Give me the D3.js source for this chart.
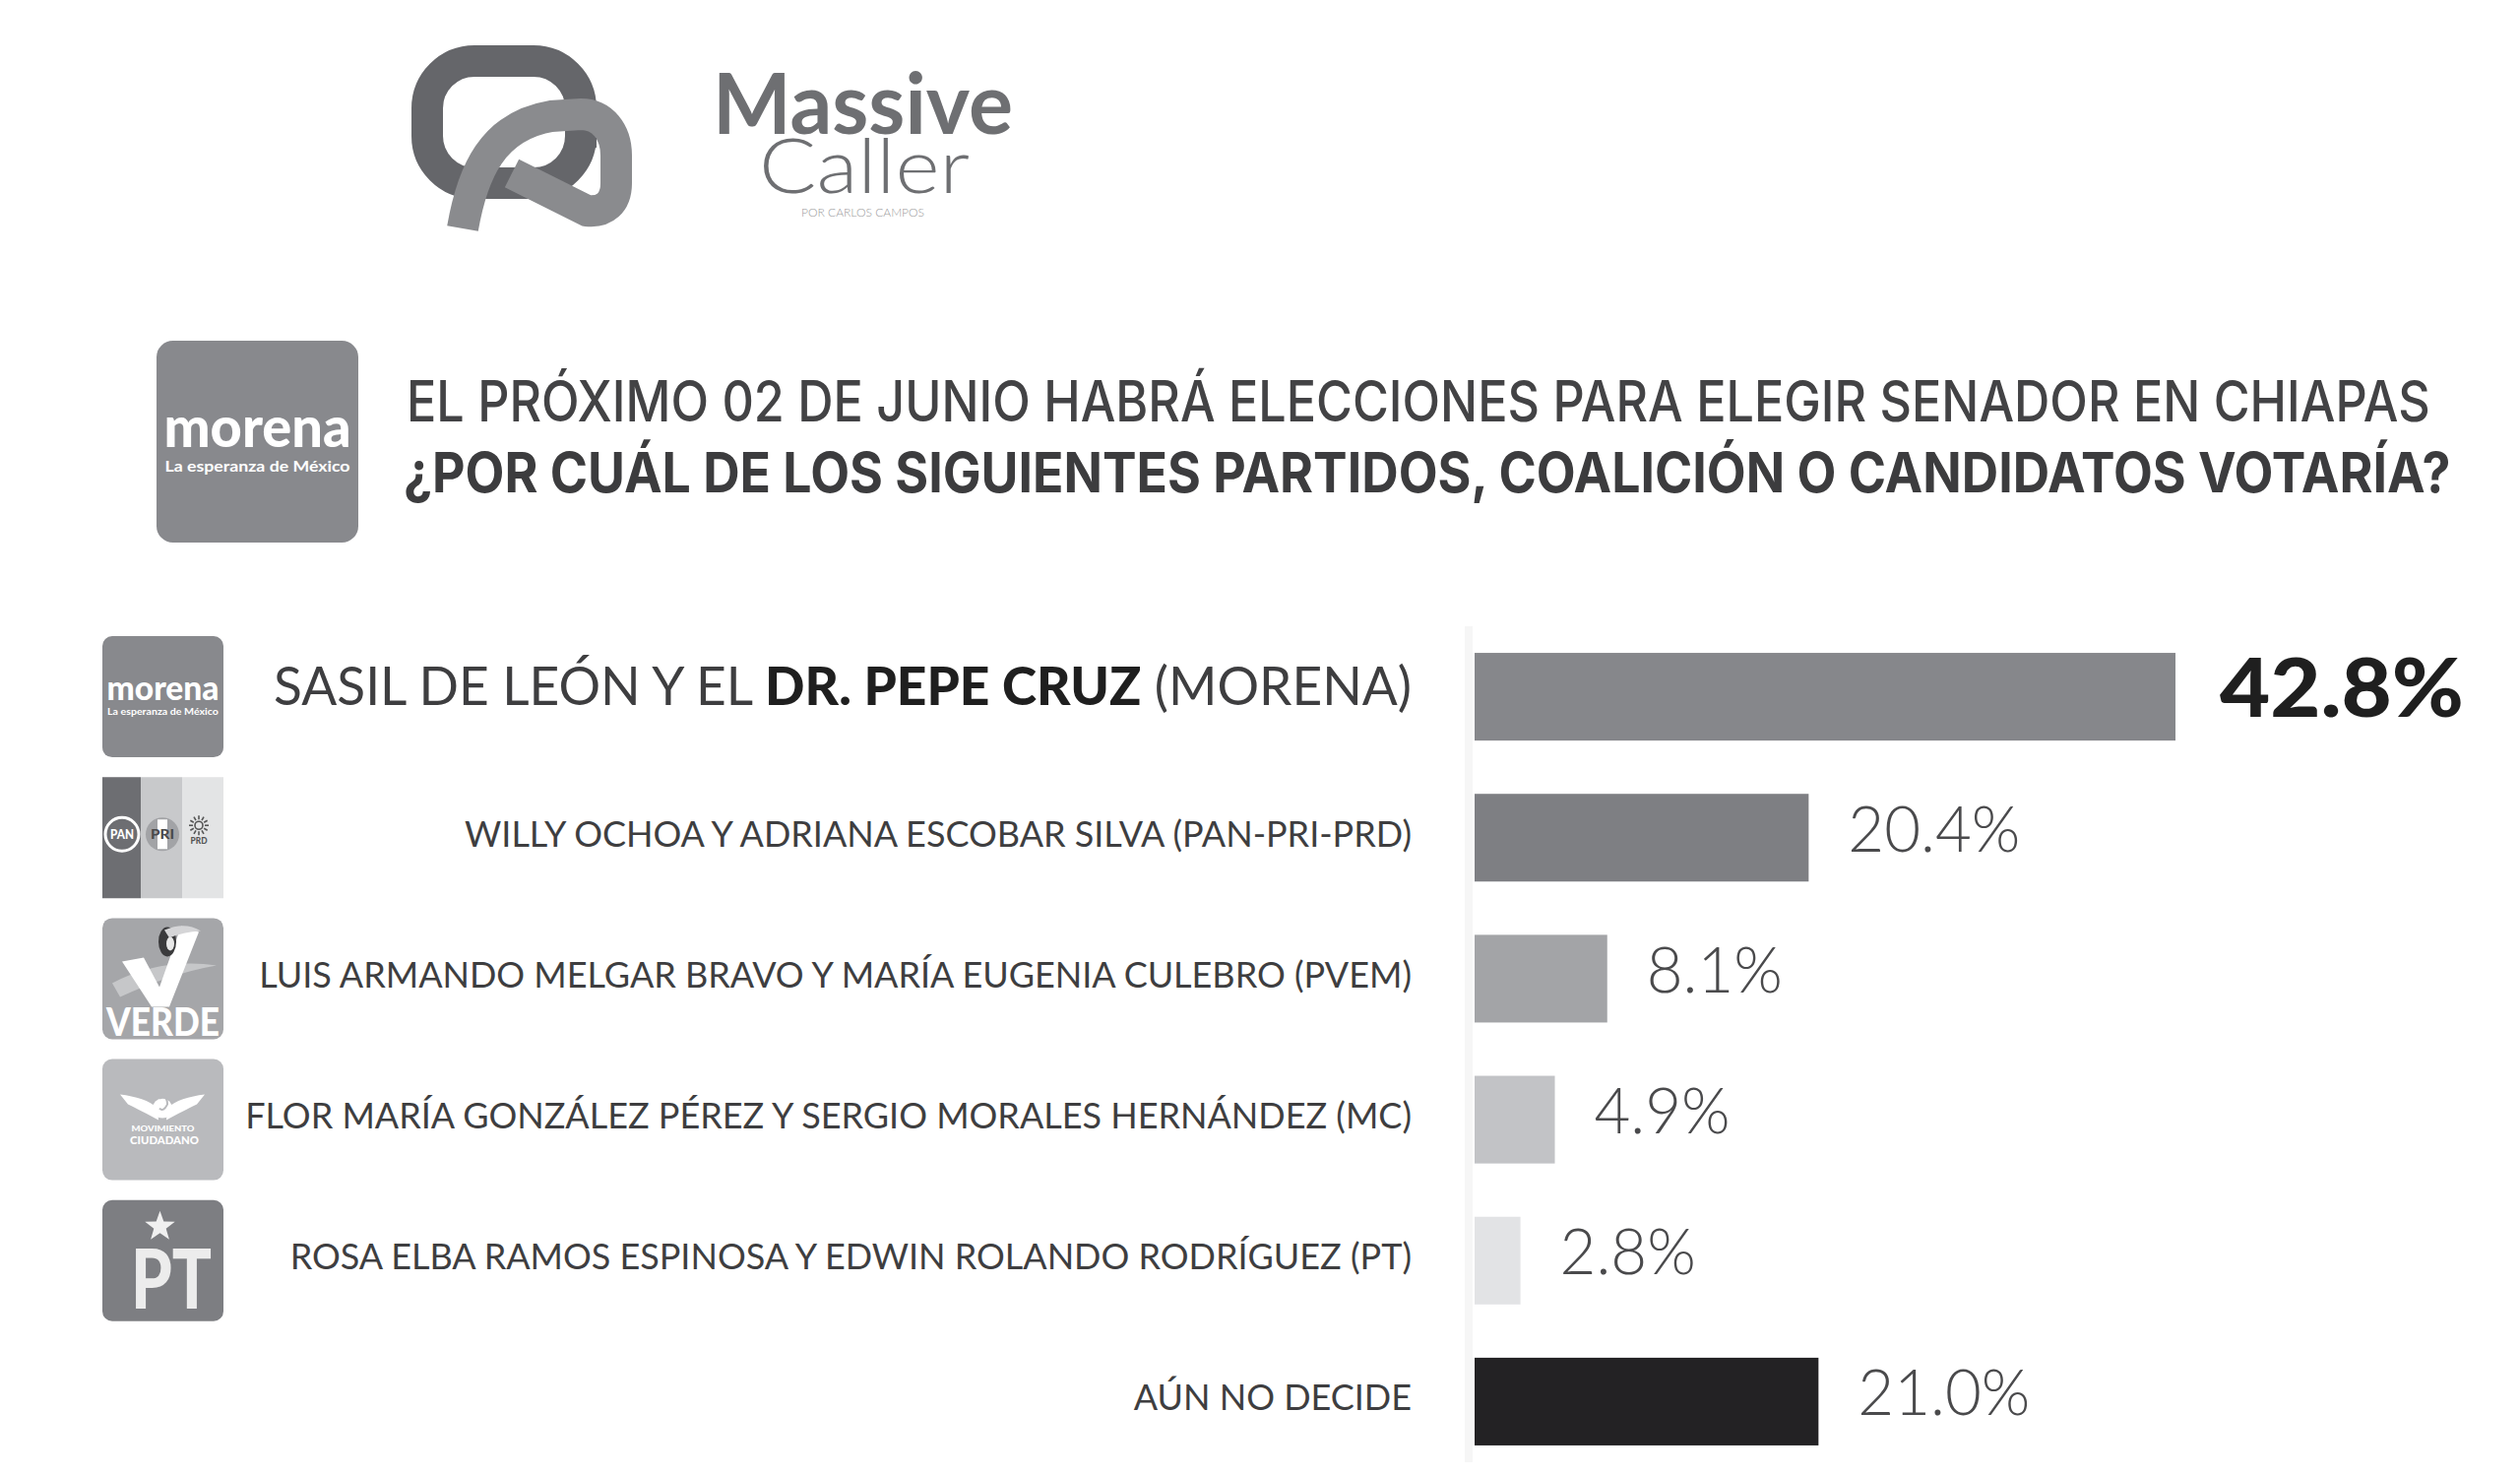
<!DOCTYPE html>
<html>
<head>
<meta charset="utf-8">
<script src="https://cdn.jsdelivr.net/npm/d3@7"></script>
<style>
  html, body { margin: 0; padding: 0; background: #fff; }
  svg { display: block; }
</style>
</head>
<body>
<div class="chart"></div>
<script>
// Data
const titleLines = [
    "EL PRÓXIMO 02 DE JUNIO HABRÁ ELECCIONES PARA ELEGIR SENADOR EN CHIAPAS",
    "¿POR CUÁL DE LOS SIGUIENTES PARTIDOS, COALICIÓN O CANDIDATOS VOTARÍA?"
];
const categories = [
    "SASIL DE LEÓN Y EL DR. PEPE CRUZ (MORENA)",
    "WILLY OCHOA Y ADRIANA ESCOBAR SILVA (PAN-PRI-PRD)",
    "LUIS ARMANDO MELGAR BRAVO Y MARÍA EUGENIA CULEBRO (PVEM)",
    "FLOR MARÍA GONZÁLEZ PÉREZ Y SERGIO MORALES HERNÁNDEZ (MC)",
    "ROSA ELBA RAMOS ESPINOSA Y EDWIN ROLANDO RODRÍGUEZ (PT)",
    "AÚN NO DECIDE"
];
const boldParts = ["DR. PEPE CRUZ", "", "", "", "", ""];
const values = [42.8, 20.4, 8.1, 4.9, 2.8, 21.0];
const valueLabels = ["42.8%", "20.4%", "8.1%", "4.9%", "2.8%", "21.0%"];
const partyLogos = ["morena", "panpriprd", "verde", "mc", "pt", ""];

// Styles
const barColors = ["#86878b", "#7e7f83", "#a3a4a7", "#c2c3c6", "#e2e3e5", "#232224"];
const width = 2560;
const height = 1499;

const svg = d3.select(".chart").append("svg")
    .attr("width", width)
    .attr("height", height);

// text helper: draws text in a group and squeezes it to a target width
function fitText(parent, x, y, str, attrs, targetW) {
    const g = parent.append("g");
    const t = g.append("text").text(str);
    Object.keys(attrs).forEach(k => t.attr(k, attrs[k]));
    let k = 1;
    if (targetW) k = targetW / t.node().getComputedTextLength();
    g.attr("transform", `translate(${x},${y}) scale(${k},1)`);
    return g;
}

// ---- Massive Caller logo ----
const logo = svg.append("g");
logo.append("rect")
    .attr("x", 434).attr("y", 62).attr("width", 156).attr("height", 124).attr("rx", 48)
    .attr("fill", "none").attr("stroke", "#65666a").attr("stroke-width", 32);
logo.append("path")
    .attr("d", "M470,232 C480,175 500,128 560,118 L590,116 C612,116 626,134 626,158 L626,186 C626,206 614,216 596,214 L520,176")
    .attr("fill", "none").attr("stroke", "#8a8b8e").attr("stroke-width", 32);
logo.append("path")
    .attr("d", "M590,140 L590,150")
    .attr("fill", "none").attr("stroke", "#65666a").attr("stroke-width", 32);
const brand = logo.append("text").attr("font-family", "Lato").attr("fill", "#6e6f72");
brand.append("tspan").attr("x", 724).attr("y", 136).text("Massive")
    .attr("font-weight", 700).attr("font-size", 86)
    .attr("textLength", 305).attr("lengthAdjust", "spacingAndGlyphs");
brand.append("tspan").attr("x", 771).attr("y", 196).text("Caller")
    .attr("font-weight", 300).attr("font-size", 76)
    .attr("textLength", 214).attr("lengthAdjust", "spacingAndGlyphs");
brand.append("tspan").attr("x", 814).attr("y", 220).text("POR CARLOS CAMPOS")
    .attr("font-weight", 300).attr("font-size", 11).attr("fill", "#9a9a9c")
    .attr("textLength", 125).attr("lengthAdjust", "spacingAndGlyphs");

// ---- party logos ----
function star(cx, cy, ro, ri) {
    const pts = [];
    for (let i = 0; i < 10; i++) {
        const r = i % 2 === 0 ? ro : ri;
        const a = -Math.PI / 2 + i * Math.PI / 5;
        pts.push([cx + r * Math.cos(a), cy + r * Math.sin(a)]);
    }
    return "M" + pts.map(p => p.join(",")).join("L") + "Z";
}

function drawMorena(g) {
    g.append("rect").attr("width", 123).attr("height", 123).attr("rx", 10).attr("fill", "#88898d");
    fitText(g, 61.5, 65, "morena",
        { "font-family": "Lato", "font-weight": 900, "font-size": 34, fill: "#fff", "text-anchor": "middle" }, 114);
    fitText(g, 61.5, 80, "La esperanza de México",
        { "font-family": "Lato", "font-weight": 700, "font-size": 9, fill: "#fff", "text-anchor": "middle" }, 113);
}

function drawPanPriPrd(g) {
    g.append("rect").attr("x", 0).attr("width", 39).attr("height", 123).attr("fill", "#6d6e72");
    g.append("rect").attr("x", 39).attr("width", 42).attr("height", 123).attr("fill", "#c8c9cb");
    g.append("rect").attr("x", 81).attr("width", 42).attr("height", 123).attr("fill", "#e3e4e5");
    g.append("circle").attr("cx", 20).attr("cy", 58).attr("r", 17)
        .attr("fill", "none").attr("stroke", "#fff").attr("stroke-width", 3);
    fitText(g, 20, 63, "PAN",
        { "font-family": "Lato", "font-weight": 900, "font-size": 13, fill: "#fff", "text-anchor": "middle" }, 24);
    g.append("circle").attr("cx", 61).attr("cy", 58).attr("r", 17).attr("fill", "#a2a3a6");
    g.append("rect").attr("x", 56).attr("y", 43).attr("width", 10).attr("height", 30).attr("fill", "#fff");
    fitText(g, 61, 63, "PRI",
        { "font-family": "Lato", "font-weight": 900, "font-size": 14, fill: "#4a4a4c", "text-anchor": "middle" }, 24);
    const sun = g.append("g").attr("transform", "translate(98,49)");
    sun.append("circle").attr("r", 4).attr("fill", "none").attr("stroke", "#555").attr("stroke-width", 1.6);
    d3.range(12).forEach(i => {
        const a = i * Math.PI / 6;
        sun.append("line")
            .attr("x1", 6 * Math.cos(a)).attr("y1", 6 * Math.sin(a))
            .attr("x2", 10 * Math.cos(a)).attr("y2", 10 * Math.sin(a))
            .attr("stroke", "#555").attr("stroke-width", 1.6);
    });
    fitText(g, 98, 68, "PRD",
        { "font-family": "Lato", "font-weight": 900, "font-size": 10, fill: "#555", "text-anchor": "middle" }, 17);
}

function drawVerde(g) {
    g.append("rect").attr("width", 123).attr("height", 123).attr("rx", 10).attr("fill", "#a5a6a9");
    g.append("path").attr("d", "M10,66 Q60,40 116,48 Q70,56 18,80 Z").attr("fill", "#c6c7c9");
    g.append("path").attr("d", "M20,44 L42,40 L58,70 L80,8 L98,14 L68,90 L50,90 Z").attr("fill", "#fff");
    g.append("ellipse").attr("cx", 66).attr("cy", 24).attr("rx", 9).attr("ry", 15).attr("fill", "#3a3a3c");
    g.append("ellipse").attr("cx", 69).attr("cy", 26).attr("rx", 4).attr("ry", 7).attr("fill", "#e8e8e8");
    g.append("path").attr("d", "M63,12 Q84,3 100,13 Q82,14 68,20 Z").attr("fill", "#d5d5d7");
    fitText(g, 61.5, 120, "VERDE",
        { "font-family": "Lato", "font-weight": 900, "font-size": 40, fill: "#fff", "text-anchor": "middle" }, 115);
}

function drawMc(g) {
    g.append("rect").attr("width", 123).attr("height", 123).attr("rx", 10).attr("fill", "#b9babd");
    g.append("path")
        .attr("d", "M18,36 C34,38 48,42 56,50 L57,62 C46,56 34,50 26,46 Z M104,36 C88,38 74,42 66,50 L65,62 C76,56 88,50 96,46 Z")
        .attr("fill", "#fff");
    g.append("circle").attr("cx", 61).attr("cy", 50).attr("r", 10).attr("fill", "#fff");
    g.append("path").attr("d", "M58,40 Q66,36 66,46 Q62,54 58,50").attr("fill", "none")
        .attr("stroke", "#b9babd").attr("stroke-width", 2);
    fitText(g, 61.5, 73, "MOVIMIENTO",
        { "font-family": "Lato", "font-weight": 900, "font-size": 8, fill: "#fff", "text-anchor": "middle" }, 64);
    fitText(g, 63, 86, "CIUDADANO",
        { "font-family": "Lato", "font-weight": 900, "font-size": 11, fill: "#fff", "text-anchor": "middle" }, 70);
}

function drawPt(g) {
    g.append("rect").attr("width", 123).attr("height", 123).attr("rx", 10).attr("fill", "#7d7e82");
    g.append("path").attr("d", star(58.5, 27, 16, 6.5)).attr("fill", "#f0f0f0");
    fitText(g, 70, 110, "PT",
        { "font-family": "Lato", "font-weight": 900, "font-size": 84, fill: "#ececec", "text-anchor": "middle" }, 82);
}

const logoDrawers = { morena: drawMorena, panpriprd: drawPanPriPrd, verde: drawVerde, mc: drawMc, pt: drawPt };

// ---- header ----
const header = svg.append("g");
drawMorena(header.append("g").attr("transform", `translate(159,346) scale(${205 / 123})`));
fitText(header, 413, 428, titleLines[0],
    { "font-family": "Inter", "font-weight": 500, "font-size": 57, fill: "#434345" }, 2056);
fitText(header, 410, 500, titleLines[1],
    { "font-family": "Inter", "font-weight": 700, "font-size": 57, fill: "#3c3c3e" }, 2080);

// ---- scales ----
const xScale = d3.scaleLinear()
    .domain([0, d3.max(values)])
    .range([1498, 2210]);
const yScale = d3.scaleBand()
    .domain(categories)
    .range([636, 1495])
    .paddingInner(0.378)
    .paddingOuter(0.189);
const bw = yScale.bandwidth();

// faint baseline
svg.append("line")
    .attr("x1", xScale(0) - 6).attr("x2", xScale(0) - 6)
    .attr("y1", yScale.range()[0]).attr("y2", yScale.range()[1] - 10)
    .attr("stroke", "#f6f6f6").attr("stroke-width", 8);

// ---- bars ----
svg.append("g").selectAll(".bar")
    .data(values)
    .enter()
    .append("rect")
    .attr("class", "bar")
    .attr("x", xScale(0))
    .attr("y", (d, i) => yScale(categories[i]))
    .attr("width", d => xScale(d) - xScale(0))
    .attr("height", bw)
    .attr("fill", (d, i) => barColors[i]);

// ---- row logos ----
partyLogos.forEach((p, i) => {
    if (!p) return;
    const yc = yScale(categories[i]) + bw / 2;
    const g = svg.append("g").attr("transform", `translate(104,${yc - 61.5})`);
    logoDrawers[p](g);
});

// ---- row labels ----
const labels = svg.append("g");
// shared squeeze for the small labels, measured on one row
const probe = labels.append("text").text(categories[2])
    .attr("font-family", "Lato").attr("font-size", 36);
const smallK = 1171 / probe.node().getComputedTextLength();
probe.remove();

categories.forEach((c, i) => {
    const yc = yScale(c) + bw / 2;
    const g = labels.append("g");
    const t = g.append("text").attr("text-anchor", "end")
        .attr("font-family", "Lato").attr("fill", "#3e3e40");
    if (boldParts[i]) {
        const parts = c.split(boldParts[i]);
        t.attr("font-size", 54);
        t.append("tspan").text(parts[0]);
        t.append("tspan").text(boldParts[i]).attr("font-weight", 900).attr("fill", "#1f1f1f");
        t.append("tspan").text(parts[1]);
        const k = 1156 / t.node().getComputedTextLength();
        g.attr("transform", `translate(1434,${yc + 8}) scale(${k},1)`);
    } else {
        t.attr("font-size", 36).text(c);
        g.attr("transform", `translate(1434,${yc + 9}) scale(${smallK},1)`);
    }
});

// ---- value labels ----
const vals = svg.append("g");
const probe2 = vals.append("text").text(valueLabels[1])
    .attr("font-family", "Lato").attr("font-weight", 300).attr("font-size", 65);
const valK = 175 / probe2.node().getComputedTextLength();
probe2.remove();

values.forEach((v, i) => {
    const yc = yScale(categories[i]) + bw / 2;
    if (i === 0) {
        fitText(vals, xScale(v) + 45, yc + 20, valueLabels[i],
            { "font-family": "Lato", "font-weight": 900, "font-size": 82, fill: "#1f1f1f" }, 248);
    } else {
        const g = vals.append("g")
            .attr("transform", `translate(${xScale(v) + 40},${yc + 14}) scale(${valK},1)`);
        g.append("text").text(valueLabels[i])
            .attr("font-family", "Lato").attr("font-weight", 300).attr("font-size", 65)
            .attr("fill", "#4a4a4c");
    }
});
</script>
</body>
</html>
